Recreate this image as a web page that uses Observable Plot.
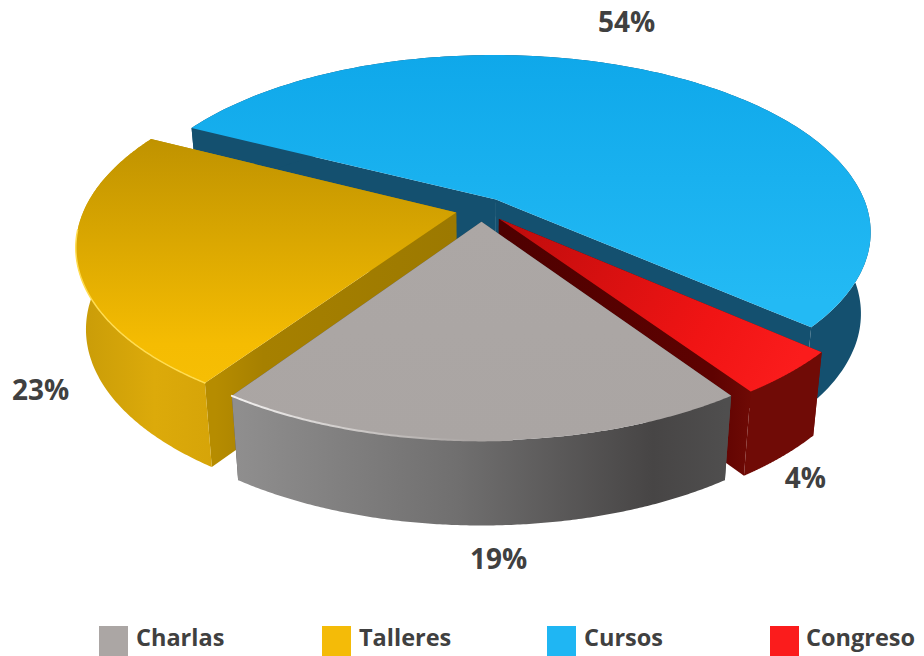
<!DOCTYPE html>
<html>
<head>
<meta charset="utf-8">
<script src="https://cdn.jsdelivr.net/npm/d3@7"></script>
<script src="https://cdn.jsdelivr.net/npm/@observablehq/plot@0.6"></script>
<style>
html,body{margin:0;padding:0;background:#fff;overflow:hidden}
#chart svg{display:block}
#legend{position:relative;width:924px;height:36px;font:700 23.5px "Open Sans",sans-serif;color:#404040}
#legend i{position:absolute;top:6px;width:29px;height:30px}
#legend span{position:absolute;top:1px;line-height:32px;white-space:nowrap}
</style>
</head>
<body>
<div id="chart"></div>
<div id="legend"></div>
<script>
// --- data ---
const categories = ["Charlas", "Talleres", "Cursos", "Congreso"];
const shares = [19, 23, 54, 4];
const labels = ["19%", "23%", "54%", "4%"];
const legendColors = ["#aba6a4", "#f4bb08", "#1fb6f3", "#fb1c1c"];

// --- look and layout ---
const W = 924, H = 620;
const view = {cx: 481, cy: 209, R: 372, Rv: 174, k: 0.181, explode: 0.07, startAngle: 304.2};
const paintOrder = [2, 1, 3, 0];
const labelAngle = [271.3, 221.4, 70.06, 299.3];
const labelRadius = [1.478, 1.329, 1.419, 1.389];
const legendLeft = [99, 322, 547, 770];
const legendTextLeft = [136, 359, 584, 806];
const topFill = ["url(#topCharlas)", "url(#topTalleres)", "url(#topCursos)", "url(#topCongreso)"];
const outerFill = ["url(#wallCharlas)", "url(#wallTalleres)", "#14506f", "#700b06"];
const radialFill = ["#555353", "url(#sideTalleres)", "#14506f", "url(#sideCongreso)"];

const project = (X, Y) => {
  const s = 1 / (1 + view.k * Y);
  return {x: view.cx + view.R * X * s, y: view.cy - view.Rv * Y * s, s};
};
const lower = (p) => ({x: view.cx + (p.x - view.cx) * 0.975, y: p.y + 64 + 17 * p.s});
const rad = (d) => d * Math.PI / 180;

// slices run clockwise from startAngle, their angles come from the shares
const total = d3.sum(shares);
let running = view.startAngle;
const slices = categories.map((name, i) => {
  const a0 = running, a1 = running - shares[i] / total * 360;
  running = a1;
  const mid = rad((a0 + a1) / 2);
  const ox = view.explode * Math.cos(mid), oy = view.explode * Math.sin(mid);
  const apex = project(ox, oy);
  const arc = d3.range(0, 181).map((t) => {
    const a = rad(a0 + (a1 - a0) * t / 180);
    return project(ox + Math.cos(a), oy + Math.sin(a));
  });
  return {name, i, apex, arc};
});

const poly = (pts, fill) => Plot.line(pts, {x: "x", y: "y", fill, stroke: "none", curve: "linear-closed"});

const sliceMarks = paintOrder.flatMap((i) => {
  const {apex, arc} = slices[i];
  const first = arc[0], last = arc[arc.length - 1];
  return [
    poly([apex, first, lower(first), lower(apex)], radialFill[i]),
    poly([apex, last, lower(last), lower(apex)], radialFill[i]),
    poly([...arc, ...arc.map(lower).reverse()], outerFill[i]),
    poly([apex, ...arc], topFill[i])
  ];
});

// soft highlights along the front rims of two slices
const rim = (i, from, to, stroke, w) =>
  Plot.line(slices[i].arc.slice(from, to), {x: "x", y: "y", stroke, strokeWidth: w});

const labelRows = slices.map((d, i) => {
  const p = project(labelRadius[i] * Math.cos(rad(labelAngle[i])), labelRadius[i] * Math.sin(rad(labelAngle[i])));
  return {x: p.x, y: p.y, text: labels[i]};
});

function gradient(defs, id, x1, y1, x2, y2, stops) {
  const g = defs.append("linearGradient").attr("id", id).attr("gradientUnits", "userSpaceOnUse")
    .attr("x1", x1).attr("y1", y1).attr("x2", x2).attr("y2", y2);
  stops.forEach(([o, c]) => g.append("stop").attr("offset", o).attr("stop-color", c));
}
const defsMark = () => {
  const defs = d3.create("svg:defs");
  gradient(defs, "topCursos", 0, 55, 0, 300, [[0, "#0fa8ea"], [1, "#23baf4"]]);
  gradient(defs, "topTalleres", 0, 140, 0, 380, [[0, "#c09300"], [0.85, "#f5bc02"], [1, "#f6be04"]]);
  gradient(defs, "topCharlas", 0, 220, 0, 440, [[0, "#aca7a5"], [1, "#aaa5a3"]]);
  gradient(defs, "topCongreso", 500, 220, 790, 375, [[0, "#bd0c0c"], [0.7, "#f01414"], [1, "#fb1c1c"]]);
  gradient(defs, "wallCharlas", 238, 0, 725, 0, [[0, "#8f8e8e"], [0.45, "#706f6f"], [0.85, "#474545"], [1, "#4f4e4e"]]);
  gradient(defs, "wallTalleres", 80, 0, 215, 0, [[0, "#c99c08"], [0.55, "#dcaa0a"], [1, "#d6a408"]]);
  gradient(defs, "sideTalleres", 455, 0, 215, 0, [[0, "#9c7900"], [0.8, "#a68000"], [1, "#b68c00"]]);
  gradient(defs, "sideCongreso", 500, 0, 750, 0, [[0, "#4e0000"], [0.85, "#5e0201"], [1, "#6e0a05"]]);
  gradient(defs, "rimCharlas", 235, 0, 470, 0, [[0, "#f2f0ef"], [1, "#aaa5a3"]]);
  return defs.node();
};

const chart = Plot.plot({
  width: W, height: H,
  margin: 0,
  x: {type: "linear", domain: [0, W], range: [0, W], axis: null},
  y: {type: "linear", domain: [0, H], range: [0, H], axis: null},
  style: {background: "#fff"},
  marks: [
    defsMark,
    ...sliceMarks,
    rim(1, 0, 110, "#ffdc50", 1.5),
    rim(0, 80, 181, "url(#rimCharlas)", 2),
    Plot.text(labelRows, {
      x: "x", y: "y", text: "text",
      fill: "#404040", fontSize: 28, fontWeight: 700, fontFamily: "Open Sans",
      textAnchor: "middle", lineAnchor: "middle"
    })
  ]
});
document.getElementById("chart").append(chart);

const legend = d3.select("#legend");
categories.forEach((name, i) => {
  legend.append("i").style("left", legendLeft[i] + "px").style("background", legendColors[i]);
  legend.append("span").style("left", legendTextLeft[i] + "px").text(name);
});
</script>
</body>
</html>
